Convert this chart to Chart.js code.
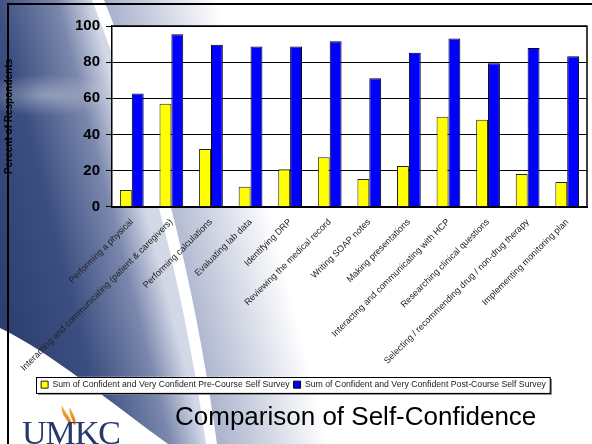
<!DOCTYPE html>
<html>
<head>
<meta charset="utf-8">
<script src="https://cdn.jsdelivr.net/npm/chart.js@4"></script>
<style>
  html, body { margin: 0; padding: 0; background: #fff; }
  #slide { position: relative; width: 592px; height: 444px; overflow: hidden; font-family: Arial, "Liberation Sans", sans-serif; }
  #bg { position: absolute; left: 0; top: 0; }
  #wrap { position: absolute; left: 0; top: 0; width: 592px; height: 444px; }
  #frame { position: absolute; left: 7px; top: 3px; width: 600px; height: 460px; border-top: 2px solid #000; border-left: 2px solid #000; }
  #titulo { position: absolute; left: 175px; top: 403px; font-size: 26px; line-height: 26px; color: #000; white-space: nowrap; }
  #umkc { position: absolute; left: 22px; top: 416px; font-family: "Liberation Serif", "DejaVu Serif", serif; font-size: 34px; line-height: 34px; color: #26396b; letter-spacing: -1px; }
</style>
</head>
<body>
<div id="slide">
  <svg id="bg" width="592" height="444" viewBox="0 0 592 444">
    <defs>
      <linearGradient id="gSwoosh" gradientUnits="userSpaceOnUse" x1="-78" y1="20" x2="86" y2="-22">
        <stop offset="0" stop-color="#2c3e6e"/>
        <stop offset="0.45" stop-color="#3c4f81"/>
        <stop offset="0.8" stop-color="#7b88ad"/>
        <stop offset="1" stop-color="#d3d8e7"/>
      </linearGradient>
      <linearGradient id="gRight" gradientUnits="userSpaceOnUse" x1="97" y1="-25" x2="205" y2="-52">
        <stop offset="0" stop-color="#a7b0cb"/>
        <stop offset="1" stop-color="#ffffff"/>
      </linearGradient>
      <radialGradient id="gHi" cx="45" cy="95" r="70" gradientUnits="userSpaceOnUse" gradientTransform="translate(45 95) scale(1 0.3) translate(-45 -95)">
        <stop offset="0" stop-color="#ffffff" stop-opacity="0.35"/>
        <stop offset="1" stop-color="#ffffff" stop-opacity="0"/>
      </radialGradient>
      <linearGradient id="gFlame" x1="0" y1="1" x2="0" y2="0">
        <stop offset="0" stop-color="#d9791c"/>
        <stop offset="1" stop-color="#f6b73c"/>
      </linearGradient>
    </defs>
    <rect width="592" height="444" fill="#fff"/>
    <path d="M104,0 C148,110 192,260 217,444 L345,444 C300,300 260,140 215,0 Z" fill="url(#gRight)"/>
    <path d="M0,0 L92,0 C135,110 180,260 206,444 L168,444 C110,402 50,352 0,328 Z" fill="url(#gSwoosh)"/>
    <ellipse cx="45" cy="95" rx="70" ry="21" fill="url(#gHi)"/>
    <path d="M70,425 C66,418 60,413 62,405 C64,412 70,416 72,424 Z" fill="url(#gFlame)"/>
    <path d="M74,425 C72,418 68,413 70,407 C72,413 76,417 76,424 Z" fill="url(#gFlame)"/>
  </svg>
  <div id="wrap"><canvas id="grafico"></canvas></div>
  <div id="frame"></div>
  <div id="titulo">Comparison of Self-Confidence</div>
  <div id="umkc">UMKC</div>
</div>
<script>
// dados
const categorias = [
  'Performing a physical',
  'Interacting and communicating (patient & caregivers)',
  'Performing calculations',
  'Evaluating lab data',
  'Identifying DRP',
  'Reviewing the medical record',
  'Writing SOAP notes',
  'Making presentations',
  'Interacting and communicating with HCP',
  'Researching clinical questions',
  'Selecting / recommending drug / non-drug therapy',
  'Implementing monitoring plan'
];
const preCurso = [9.3, 57, 31.9, 11.1, 20.7, 27.4, 15.4, 22.6, 49.8, 48.1, 18.1, 13.7];
const posCurso = [62.6, 95.4, 89.6, 88.7, 88.7, 91.5, 71.1, 85.2, 93.1, 79.4, 87.8, 83.2];
const rotulosSeries = [
  'Sum of Confident and Very Confident Pre-Course Self Survey',
  'Sum of Confident and Very Confident Post-Course Self Survey'
];
const yMin = 0, yMax = 100, yPasso = 20;
const tituloY = 'Percent of Respondents';

const FONT = 'Arial, "Liberation Sans", sans-serif';

// fundo branco da área de plotagem + caixa da legenda
const fundoPlot = {
  id: 'fundoPlot',
  beforeDraw(chart) {
    const { ctx, chartArea: a, legend } = chart;
    ctx.save();
    ctx.fillStyle = '#fff';
    ctx.fillRect(a.left, a.top, a.right - a.left, a.bottom - a.top);
    if (legend && legend.legendHitBoxes && legend.legendHitBoxes.length) {
      const hb = legend.legendHitBoxes;
      const l = Math.min(...hb.map(h => h.left)) - 5;
      const r = Math.max(...hb.map(h => h.left + h.width)) + 4;
      const t = legend.top + 0.5;
      ctx.fillStyle = '#777';
      ctx.fillRect(l + 2, t + 2, r - l, 16);
      ctx.fillStyle = '#fff';
      ctx.fillRect(l, t, r - l, 16);
      ctx.strokeStyle = '#000';
      ctx.lineWidth = 1;
      ctx.strokeRect(Math.round(l) + 0.5, Math.round(t) + 0.5, r - l, 16);
    }
    ctx.restore();
  },
  afterDraw(chart) {
    const { ctx, chartArea: a } = chart;
    ctx.save();
    ctx.strokeStyle = '#000';
    ctx.lineWidth = 1.5;
    ctx.beginPath();
    ctx.moveTo(a.left, a.top);
    ctx.lineTo(a.right, a.top);
    ctx.lineTo(a.right, a.bottom);
    ctx.stroke();
    ctx.restore();
  }
};

new Chart(document.getElementById('grafico'), {
  type: 'bar',
  data: {
    labels: categorias,
    datasets: [
      {
        label: rotulosSeries[0],
        data: preCurso,
        backgroundColor: '#FFFF00',
        borderColor: '#222',
        borderWidth: 1,
        categoryPercentage: 0.6,
        barPercentage: 1.0
      },
      {
        label: rotulosSeries[1],
        data: posCurso,
        backgroundColor: '#0000FF',
        borderColor: '#000',
        borderWidth: 1,
        categoryPercentage: 0.6,
        barPercentage: 1.0
      }
    ]
  },
  options: {
    responsive: true,
    maintainAspectRatio: false,
    animation: false,
    layout: { padding: { left: 0, top: 26, right: 5, bottom: 45 } },
    plugins: {
      legend: {
        position: 'bottom',
        labels: {
          color: '#222',
          font: { family: FONT, size: 8.7 },
          boxWidth: 7,
          boxHeight: 7,
          padding: 4
        }
      },
      tooltip: { enabled: false }
    },
    scales: {
      x: {
        grid: { display: false },
        border: { display: true, color: '#000', width: 2 },
        ticks: {
          color: '#222',
          font: { family: FONT, size: 9 },
          autoSkip: false,
          maxRotation: 45,
          minRotation: 45,
          padding: 2
        },
        afterFit: s => { s.height = 169.5; }
      },
      y: {
        min: yMin,
        max: yMax,
        grid: { color: '#000', lineWidth: 1, tickLength: 6, drawTicks: true },
        border: { display: true, color: '#000', width: 1.5 },
        ticks: {
          stepSize: yPasso,
          color: '#000',
          padding: 6,
          font: { family: FONT, size: 15, weight: 'bold' }
        },
        title: {
          display: true,
          text: tituloY,
          color: '#000',
          font: { family: FONT, size: 10, weight: 'bold' },
          padding: { top: 3, bottom: 0 }
        },
        afterFit: s => { s.width = 112; }
      }
    }
  },
  plugins: [fundoPlot]
});
</script>
</body>
</html>
